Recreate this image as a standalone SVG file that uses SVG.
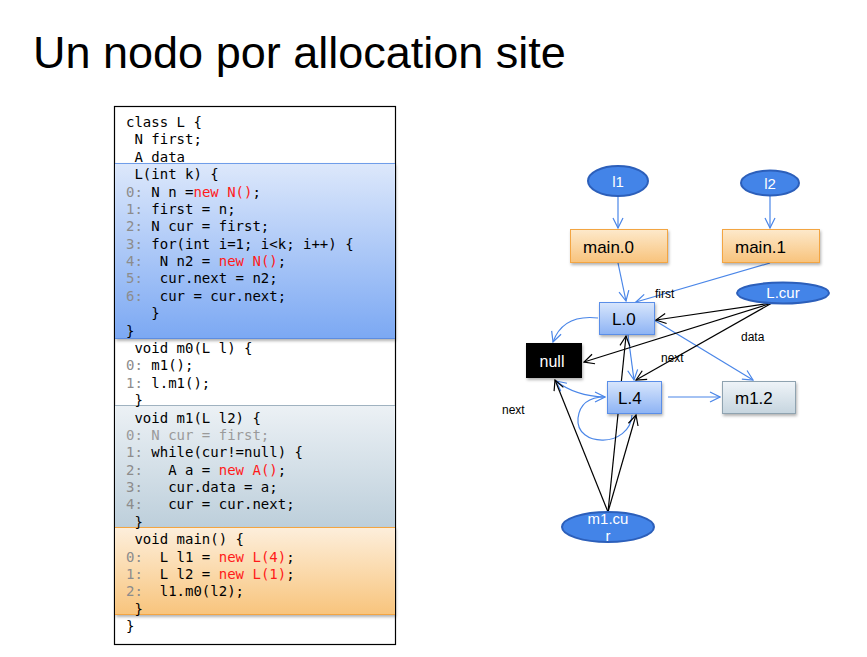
<svg xmlns="http://www.w3.org/2000/svg" width="867" height="657" viewBox="0 0 867 657">
  <defs>
    <style>
      .title { font-family: "Liberation Sans", Arial, sans-serif; font-size: 45px; fill: #000; }
      .code { font-family: "DejaVu Sans Mono", "Liberation Mono", monospace; font-size: 14px; fill: #000; white-space: pre; }
      .ln { fill: #8c8c8c; }
      .kw { fill: #ff1a1a; }
      .dim { fill: #9a9a9a; }
      .lbl { font-family: "Liberation Sans", Arial, sans-serif; font-size: 17px; fill: #000; }
      .elab { font-family: "Liberation Sans", Arial, sans-serif; font-size: 12px; fill: #000; }
      .etxt { font-family: "Liberation Sans", Arial, sans-serif; font-size: 15px; fill: #fff; text-anchor: middle; }
      .ell { fill: #4384e8; stroke: #2c5fba; stroke-width: 2; }
      .blue { fill: none; stroke: #4a86e8; stroke-width: 1.2; marker-end: url(#ab); }
      .blk { fill: none; stroke: #000; stroke-width: 1.2; marker-end: url(#ak); }
    </style>
    <linearGradient id="gBlueSec" x1="0" y1="0" x2="0" y2="1">
      <stop offset="0" stop-color="#dde8fb"/>
      <stop offset="1" stop-color="#7ba8f3"/>
    </linearGradient>
    <linearGradient id="gGraySec" x1="0" y1="0" x2="0" y2="1">
      <stop offset="0" stop-color="#ecf1f5"/>
      <stop offset="1" stop-color="#bdcfdb"/>
    </linearGradient>
    <linearGradient id="gOrangeSec" x1="0" y1="0" x2="0" y2="1">
      <stop offset="0" stop-color="#fdefdc"/>
      <stop offset="1" stop-color="#f8c47c"/>
    </linearGradient>
    <linearGradient id="gBlue" x1="0" y1="0" x2="0" y2="1">
      <stop offset="0" stop-color="#d8e6fc"/>
      <stop offset="1" stop-color="#8db3f4"/>
    </linearGradient>
    <linearGradient id="gOrange" x1="0" y1="0" x2="0" y2="1">
      <stop offset="0" stop-color="#fde9cb"/>
      <stop offset="1" stop-color="#f8c37c"/>
    </linearGradient>
    <linearGradient id="gGray" x1="0" y1="0" x2="0" y2="1">
      <stop offset="0" stop-color="#eff4f8"/>
      <stop offset="1" stop-color="#c6d5df"/>
    </linearGradient>
    <filter id="shadow" x="-20%" y="-20%" width="150%" height="160%">
      <feDropShadow dx="1" dy="2" stdDeviation="1.5" flood-color="#000" flood-opacity="0.3"/>
    </filter>
    <marker id="ab" viewBox="0 0 12 12" refX="11" refY="6" markerWidth="12" markerHeight="12" markerUnits="userSpaceOnUse" orient="auto">
      <path d="M1,1 L11,6 L1,11" fill="none" stroke="#4a86e8" stroke-width="1.2"/>
    </marker>
    <marker id="ak" viewBox="0 0 12 12" refX="11" refY="6" markerWidth="12" markerHeight="12" markerUnits="userSpaceOnUse" orient="auto">
      <path d="M1,1 L11,6 L1,11" fill="none" stroke="#000" stroke-width="1.2"/>
    </marker>
  </defs>

  <rect width="867" height="657" fill="#fff"/>

  <text class="title" x="33" y="68">Un nodo por allocation site</text>

  <!-- source listing -->
  <g id="code">
    <rect x="114.5" y="106.5" width="281" height="538" fill="#fff" stroke="#000" stroke-width="1.2"/>
    <rect x="115" y="163" width="280" height="176" fill="url(#gBlueSec)" filter="url(#shadow)"/>
    <line x1="115" y1="163.5" x2="395" y2="163.5" stroke="#6f9de9" stroke-width="1"/>
    <line x1="115" y1="338.5" x2="395" y2="338.5" stroke="#5d8de0" stroke-width="1"/>
    <rect x="115" y="405" width="280" height="122" fill="url(#gGraySec)"/>
    <line x1="115" y1="405.5" x2="395" y2="405.5" stroke="#9fb2c0" stroke-width="1"/>
    <rect x="115" y="527" width="280" height="88" fill="url(#gOrangeSec)" filter="url(#shadow)"/>
    <line x1="115" y1="527.5" x2="395" y2="527.5" stroke="#f3a542" stroke-width="1"/>
    <line x1="115" y1="614.5" x2="395" y2="614.5" stroke="#f3a542" stroke-width="1"/>

    <text class="code" x="126" y="127">class L {</text>
    <text class="code" x="126" y="144.4"> N first;</text>
    <text class="code" x="126" y="161.8"> A data</text>
    <text class="code" x="126" y="179.1"> L(int k) {</text>
    <text class="code" x="126" y="196.5"><tspan class="ln">0: </tspan>N n =<tspan class="kw">new N()</tspan>;</text>
    <text class="code" x="126" y="213.9"><tspan class="ln">1: </tspan>first = n;</text>
    <text class="code" x="126" y="231.3"><tspan class="ln">2: </tspan>N cur = first;</text>
    <text class="code" x="126" y="248.7"><tspan class="ln">3: </tspan>for(int i=1; i&lt;k; i++) {</text>
    <text class="code" x="126" y="266"><tspan class="ln">4: </tspan> N n2 = <tspan class="kw">new N()</tspan>;</text>
    <text class="code" x="126" y="283.4"><tspan class="ln">5: </tspan> cur.next = n2;</text>
    <text class="code" x="126" y="300.8"><tspan class="ln">6: </tspan> cur = cur.next;</text>
    <text class="code" x="126" y="318.2">   }</text>
    <text class="code" x="126" y="335.6">}</text>
    <text class="code" x="126" y="352.9"> void m0(L l) {</text>
    <text class="code" x="126" y="370.3"><tspan class="ln">0: </tspan>m1();</text>
    <text class="code" x="126" y="387.7"><tspan class="ln">1: </tspan>l.m1();</text>
    <text class="code" x="126" y="405.1"> }</text>
    <text class="code" x="126" y="422.5"> void m1(L l2) {</text>
    <text class="code dim" x="126" y="439.8">0: N cur = first;</text>
    <text class="code" x="126" y="457.2"><tspan class="ln">1: </tspan>while(cur!=null) {</text>
    <text class="code" x="126" y="474.6"><tspan class="ln">2: </tspan>  A a = <tspan class="kw">new A()</tspan>;</text>
    <text class="code" x="126" y="492"><tspan class="ln">3: </tspan>  cur.data = a;</text>
    <text class="code" x="126" y="509.4"><tspan class="ln">4: </tspan>  cur = cur.next;</text>
    <text class="code" x="126" y="526.7"> }</text>
    <text class="code" x="126" y="544.1"> void main() {</text>
    <text class="code" x="126" y="561.5"><tspan class="ln">0: </tspan> L l1 = <tspan class="kw">new L(4)</tspan>;</text>
    <text class="code" x="126" y="578.9"><tspan class="ln">1: </tspan> L l2 = <tspan class="kw">new L(1)</tspan>;</text>
    <text class="code" x="126" y="596.3"><tspan class="ln">2: </tspan> l1.m0(l2);</text>
    <text class="code" x="126" y="613.6"> }</text>
    <text class="code" x="126" y="631">}</text>
  </g>

  <!-- points-to graph: connectors -->
  <g id="connectors">
    <line class="blue" x1="618" y1="196" x2="618" y2="228"/>
    <line class="blue" x1="770" y1="196" x2="770" y2="228"/>
    <line class="blue" x1="618" y1="263" x2="626" y2="301"/>
    <line class="blue" x1="770" y1="263" x2="636" y2="302"/>
    <path class="blue" d="M598,318 Q563,314 553,342"/>
    <line class="blue" x1="628" y1="335" x2="634" y2="380"/>
    <line class="blue" x1="654" y1="320" x2="753" y2="380"/>
    <line class="blue" x1="668" y1="397" x2="720" y2="397"/>
    <path class="blue" d="M605,397 Q575,396 556,381"/>
    <path class="blue" d="M632,415 C630,448 575,448 578,418 C580,402 592,397 605,397"/>

    <line class="blk" x1="772" y1="303" x2="656" y2="320"/>
    <line class="blk" x1="772" y1="303" x2="584" y2="362"/>
    <line class="blk" x1="772" y1="303" x2="636" y2="380"/>
    <line class="blk" x1="608" y1="512" x2="555" y2="380"/>
    <line class="blk" x1="608" y1="512" x2="626" y2="336"/>
    <line class="blk" x1="608" y1="512" x2="636" y2="415"/>

    <text class="elab" x="655" y="298">first</text>
    <text class="elab" x="741" y="341">data</text>
    <text class="elab" x="661" y="362">next</text>
    <text class="elab" x="502" y="414">next</text>
  </g>

  <!-- points-to graph: nodes -->
  <g id="l1">
    <ellipse class="ell" cx="618" cy="181" rx="30" ry="15"/>
    <text class="etxt" x="618" y="187" font-size="17">l1</text>
  </g>
  <g id="l2">
    <ellipse class="ell" cx="770" cy="183" rx="29" ry="12.5"/>
    <text class="etxt" x="770" y="189" font-size="17">l2</text>
  </g>
  <g id="main0">
    <rect x="570.5" y="229.5" width="97" height="33" fill="url(#gOrange)" stroke="#f3a542" filter="url(#shadow)"/>
    <text class="lbl" x="583" y="253">main.0</text>
  </g>
  <g id="main1">
    <rect x="722.5" y="229.5" width="97" height="33" fill="url(#gOrange)" stroke="#f3a542" filter="url(#shadow)"/>
    <text class="lbl" x="735" y="253">main.1</text>
  </g>
  <g id="L0">
    <rect x="599.5" y="302.5" width="55" height="32" fill="url(#gBlue)" stroke="#5a8ee8" filter="url(#shadow)"/>
    <text class="lbl" x="612" y="325">L.0</text>
  </g>
  <g id="Lcur">
    <ellipse class="ell" cx="783" cy="293" rx="46" ry="10.5"/>
    <text class="etxt" x="783" y="298">L.cur</text>
  </g>
  <g id="null">
    <rect x="526" y="343" width="56" height="35" fill="#000" filter="url(#shadow)"/>
    <text x="552" y="367" font-family="Liberation Sans, Arial, sans-serif" font-size="16" fill="#fff" text-anchor="middle">null</text>
  </g>
  <g id="L4">
    <rect x="607.5" y="381.5" width="54" height="32" fill="url(#gBlue)" stroke="#5a8ee8" filter="url(#shadow)"/>
    <text class="lbl" x="618" y="404">L.4</text>
  </g>
  <g id="m12">
    <rect x="722.5" y="381.5" width="73" height="32" fill="url(#gGray)" stroke="#8fa3b0" filter="url(#shadow)"/>
    <text class="lbl" x="735" y="404">m1.2</text>
  </g>
  <g id="m1cur">
    <ellipse class="ell" cx="608" cy="527" rx="46" ry="15"/>
    <text class="etxt" x="608" y="524">m1.cu</text>
    <text class="etxt" x="608" y="541">r</text>
  </g>
</svg>
